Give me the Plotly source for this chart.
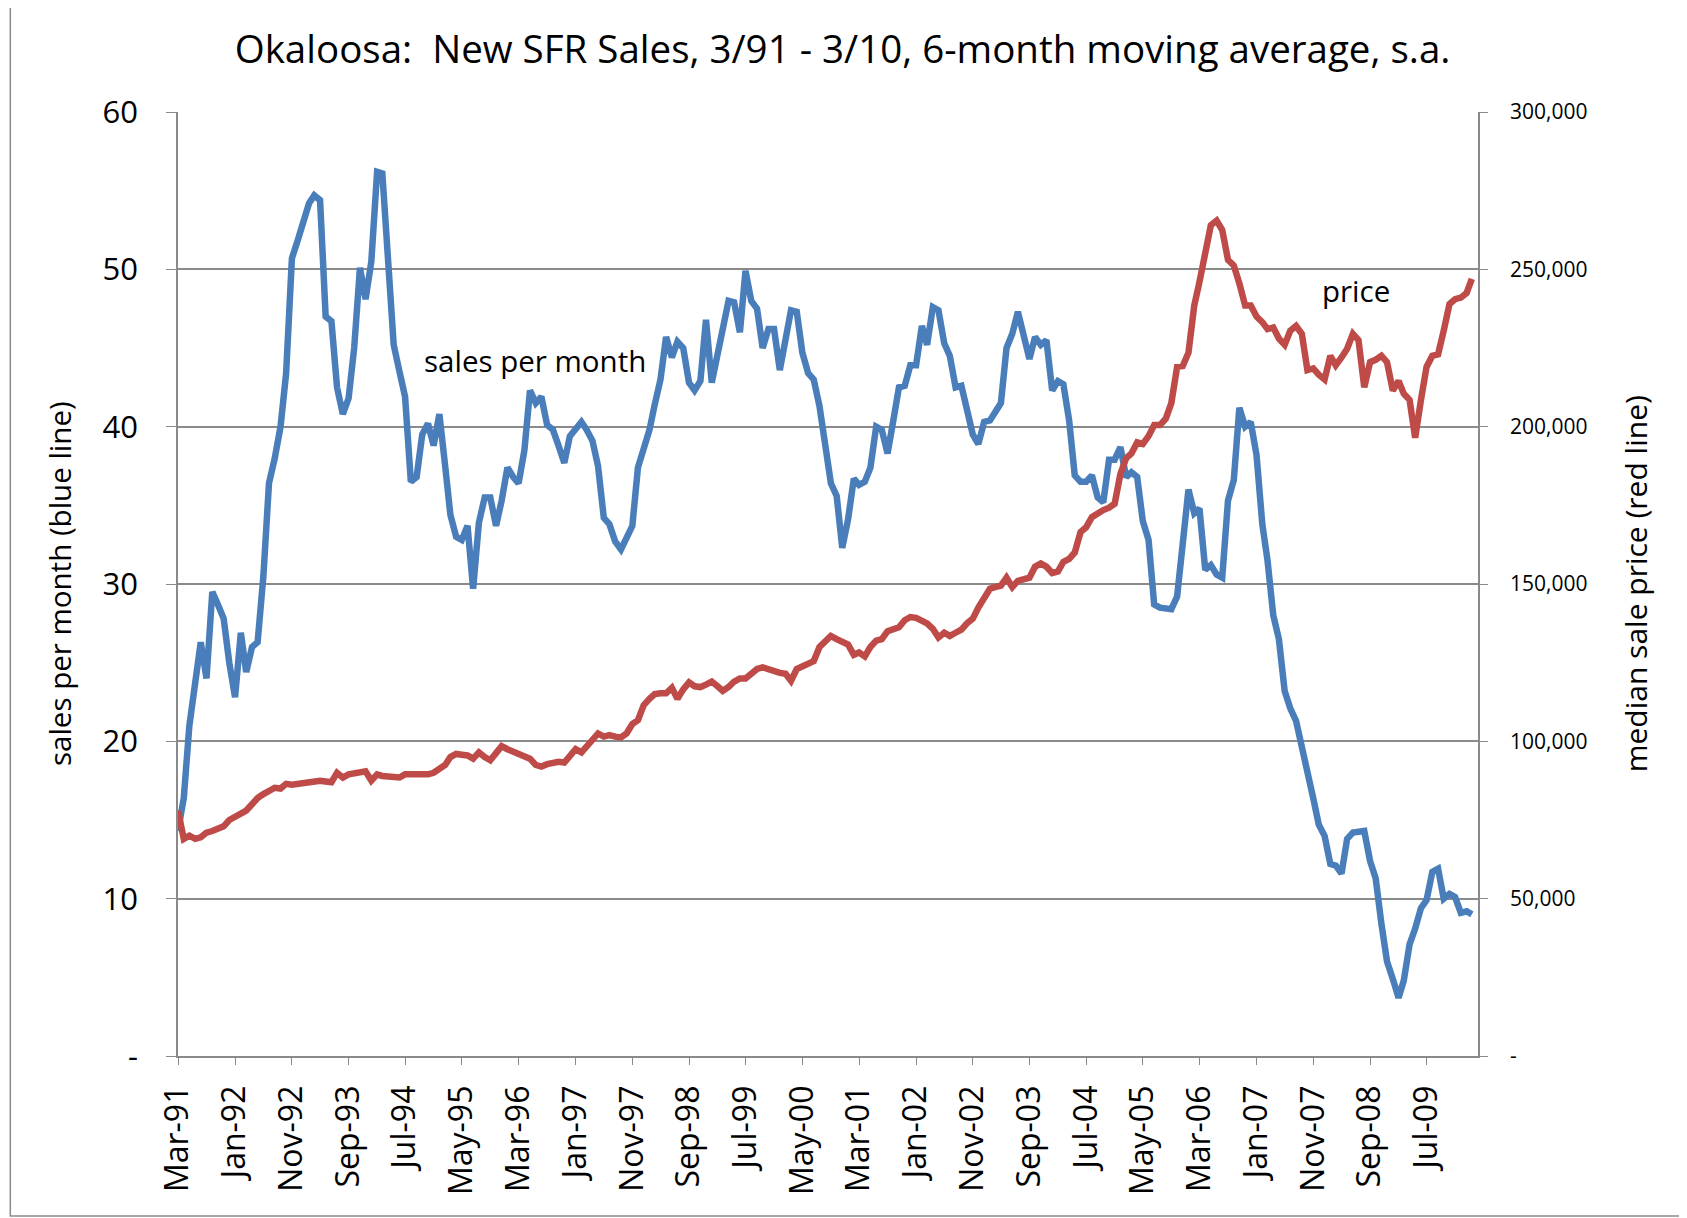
import pandas as pd
import plotly.graph_objects as go

# monthly, Mar-91 .. Mar-10
months = pd.date_range("1991-03-01", "2010-03-01", freq="MS")

# 6-month moving average of new SFR sales per month (blue line, left axis)
sales = [
    14.3, 16.4, 21.0, 24.0, 26.3, 24.0, 29.5, 28.7, 27.8, 25.0,
    22.8, 26.9, 24.4, 26.0, 26.3, 30.5, 36.4, 38.0, 40.0, 43.4,
    50.7, 51.8, 53.2, 54.2, 54.7, 54.4, 47.0, 46.7, 42.5, 40.8,
    41.8, 45.0, 50.1, 48.1, 50.5, 56.2, 56.1, 50.5, 45.2, 43.5,
    41.9, 36.5, 36.8, 39.5, 40.2, 38.8, 40.8, 37.5, 34.4, 33.0,
    32.8, 33.7, 29.7, 33.9, 35.5, 35.5, 33.7, 35.3, 37.4, 36.8,
    36.4, 38.5, 42.3, 41.5, 41.9, 40.1, 39.8, 38.8, 37.7, 39.4,
    39.8, 40.3, 39.8, 39.1, 37.5, 34.2, 33.8, 32.7, 32.2, 32.9,
    33.7, 37.4, 38.5, 39.8, 41.4, 43.0, 45.7, 44.4, 45.4, 45.0,
    42.8, 42.3, 42.9, 46.8, 42.8, 44.5, 46.0, 48.0, 47.9, 46.0,
    49.9, 48.0, 47.5, 45.0, 46.2, 46.2, 43.6, 45.5, 47.4, 47.3,
    44.7, 43.4, 43.0, 41.3, 38.7, 36.4, 35.6, 32.3, 34.1, 36.7,
    36.3, 36.5, 37.4, 40.0, 39.8, 38.3, 40.4, 42.5, 42.6, 43.9,
    43.9, 46.4, 45.2, 47.6, 47.4, 45.3, 44.5, 42.5, 42.6, 41.0,
    39.5, 38.9, 40.3, 40.4, 40.9, 41.5, 45.0, 45.9, 47.3, 45.8,
    44.3, 45.7, 45.2, 45.5, 42.3, 42.9, 42.7, 40.4, 36.9, 36.5,
    36.5, 36.9, 35.5, 35.2, 37.9, 37.9, 38.7, 36.8, 37.1, 36.8,
    34.0, 32.8, 28.7, 28.5, 28.4, 28.4, 29.2, 32.3, 36.0, 34.5,
    34.8, 30.9, 31.2, 30.6, 30.4, 35.3, 36.6, 41.2, 40.0, 40.3,
    38.2, 33.8, 31.5, 28.0, 26.5, 23.2, 22.1, 21.3, 19.7, 18.4,
    16.4, 14.7, 14.0, 12.2, 12.1, 11.6, 13.8, 14.2, 14.3, 14.3,
    12.4, 11.3, 8.4, 6.0, 4.9, 3.7, 4.8, 7.1, 8.1, 9.4,
    9.9, 11.7, 11.9, 10.0, 10.3, 10.1, 9.1, 9.2, 9.0,
]

# median sale price (red line, right axis)
price = [
    78000, 69000, 70000, 69000, 69500, 71000, 71500, 72000, 73000, 75000,
    76000, 77000, 78000, 80000, 82000, 83250, 84500, 85250, 85000, 86500,
    86250, 86500, 86750, 87000, 87500, 87500, 87250, 87000, 90000, 88500,
    89500, 89750, 90000, 90500, 87500, 89500, 89000, 89000, 89000, 88500,
    89500, 89500, 89500, 89000, 89500, 90000, 91500, 92500, 95000, 96000,
    95750, 95500, 94500, 96500, 95000, 94000, 96250, 98500, 97500, 96750,
    96250, 95750, 94500, 92500, 92000, 92750, 93250, 93500, 93250, 95500,
    97500, 96500, 98500, 100500, 102500, 101500, 102000, 101500, 101250, 102500,
    105500, 106750, 111500, 113500, 115000, 115250, 115250, 117000, 113500, 116500,
    118750, 117500, 117250, 118000, 119000, 117500, 116000, 117250, 119000, 120000,
    120000, 121500, 123000, 123500, 122750, 122000, 121750, 121500, 119250, 123000,
    124000, 124500, 125500, 130000, 132000, 133500, 132500, 131750, 130750, 127500,
    128250, 127000, 130000, 132000, 132500, 135000, 135500, 136250, 138500, 139500,
    139250, 138500, 137500, 135750, 133000, 134500, 133500, 134500, 135500, 137500,
    139000, 142500, 146000, 148500, 149000, 149500, 152000, 149000, 151000, 151500,
    152000, 155500, 156500, 155500, 153500, 154000, 157000, 158000, 160000, 166500,
    168000, 171250, 172500, 173500, 174250, 175500, 185000, 190000, 191500, 195000,
    194500, 197000, 200500, 200500, 202500, 207500, 219000, 219250, 223500, 238500,
    246000, 255000, 264000, 265500, 262500, 253000, 251250, 245500, 238500, 238500,
    235000, 233250, 231000, 231500, 228000, 226000, 230500, 232000, 229500, 218000,
    218500, 216500, 215000, 222500, 219500, 222000, 224750, 229500, 227500, 212500,
    220500, 221250, 222500, 220500, 211500, 214500, 210500, 208500, 196500, 208500,
    219000, 222500, 223000, 230500, 239000, 240500, 241000, 242500, 247000,
]

x_labels = ["Mar-91", "Jan-92", "Nov-92", "Sep-93", "Jul-94", "May-95", "Mar-96",
            "Jan-97", "Nov-97", "Sep-98", "Jul-99", "May-00", "Mar-01", "Jan-02",
            "Nov-02", "Sep-03", "Jul-04", "May-05", "Mar-06", "Jan-07", "Nov-07",
            "Sep-08", "Jul-09"]
left_ticks = [0, 10, 20, 30, 40, 50, 60]
left_labels = ["-", "10", "20", "30", "40", "50", "60"]
right_ticks = [0, 50000, 100000, 150000, 200000, 250000, 300000]
right_labels = ["-", "50,000", "100,000", "150,000", "200,000", "250,000", "300,000"]

assert len(sales) == len(months) == len(price)

FONT = "Open Sans"
GRID = "#8a8a8a"

fig = go.Figure()
fig.add_trace(go.Scatter(x=months, y=sales, mode="lines", name="sales per month",
                         line=dict(color="#4a7ebb", width=6.5)))
fig.add_trace(go.Scatter(x=months, y=price, mode="lines", name="price", yaxis="y2",
                         line=dict(color="#be4b48", width=6.5)))

# the page body adds 8px on the left/top, so margins are shifted by that amount
fig.update_layout(
    width=1687, height=1218,
    margin=dict(l=170, r=217, t=104, b=170),
    paper_bgcolor="white", plot_bgcolor="white",
    showlegend=False,
    font=dict(family=FONT, color="black"),
    title=dict(text="Okaloosa:  New SFR Sales, 3/91 - 3/10, 6-month moving average, s.a.",
               x=0.4947, xref="container", y=0.966, yanchor="middle",
               font=dict(size=38.5, family=FONT)),
    xaxis=dict(
        type="date", range=[months[0], "2010-04-03"],
        tickvals=months[::10], ticktext=x_labels, tickangle=-90,
        tickfont=dict(size=32), ticks="outside", ticklen=7, tickcolor=GRID,
        showline=True, linecolor=GRID, linewidth=1.5, showgrid=False,
        zeroline=False, ticklabelstandoff=8,
    ),
    yaxis=dict(
        range=[0, 60], tickvals=left_ticks, ticktext=left_labels,
        tickfont=dict(size=31), ticks="outside", ticklen=10, tickcolor=GRID,
        showline=True, linecolor=GRID, linewidth=1.5,
        showgrid=True, gridcolor=GRID, gridwidth=1.5, zeroline=False,
        ticklabelstandoff=22,
    ),
    yaxis2=dict(
        range=[0, 300000], tickvals=right_ticks, ticktext=right_labels,
        overlaying="y", side="right",
        tickfont=dict(size=21), ticks="outside", ticklen=8, tickcolor=GRID,
        showline=True, linecolor=GRID, linewidth=1.5,
        showgrid=False, zeroline=False, ticklabelstandoff=18,
    ),
    annotations=[
        dict(text="sales per month (blue line)", xref="paper", yref="paper",
             x=-0.0915, y=0.5, textangle=-90, showarrow=False,
             xanchor="center", yanchor="middle", font=dict(size=29.5)),
        dict(text="median sale price (red line)", xref="paper", yref="paper",
             x=1.121, y=0.5, textangle=-90, showarrow=False,
             xanchor="center", yanchor="middle", font=dict(size=30)),
        dict(text="sales per month", xref="paper", yref="paper",
             x=0.2746, y=0.7368, showarrow=False,
             xanchor="center", yanchor="middle", font=dict(size=29.5)),
        dict(text="price", xref="paper", yref="paper",
             x=0.9058, y=0.8109, showarrow=False,
             xanchor="center", yanchor="middle", font=dict(size=29.5)),
    ],
    shapes=[
        dict(type="rect", xref="paper", yref="paper",
             x0=-0.1290, x1=1.1560, y0=-0.1695, y1=1.1165,
             line=dict(color=GRID, width=1.5), fillcolor="rgba(0,0,0,0)"),
    ],
)

fig.write_html("out.html")
